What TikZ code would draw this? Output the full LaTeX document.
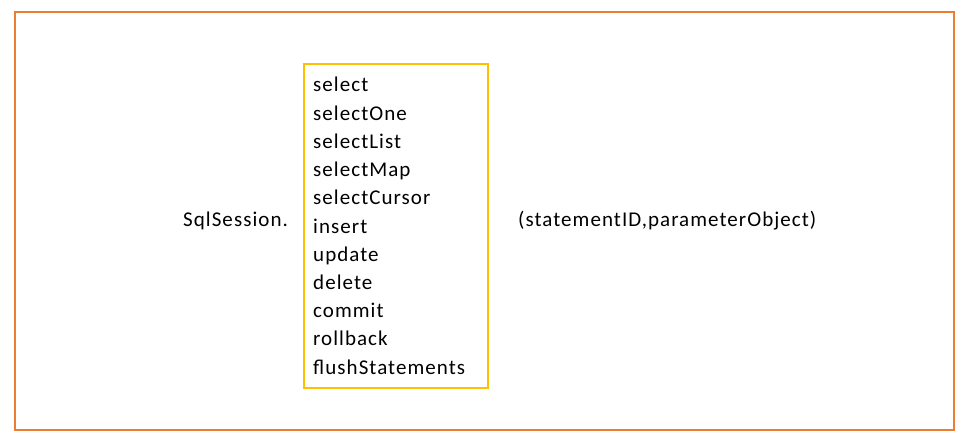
\documentclass[tikz,border=0pt]{standalone}
\usepackage{fontspec}
\setmainfont{Carlito}[LetterSpace=5]
\usepackage{xcolor}
\definecolor{frameorange}{HTML}{ED7D31}
\definecolor{boxyellow}{HTML}{FFC000}
\tikzset{x=1pt, y=-1pt,
 item/.style={anchor=base west, inner sep=0pt, font=\fontsize{21}{24}\selectfont},
 word/.style={anchor=base west, inner sep=0pt, font=\fontsize{21}{24}\selectfont},
 }

\begin{document}
\begin{tikzpicture}
        \useasboundingbox (0, 0) rectangle (968, 441);
        \draw [frameorange, line width=1.2pt] (15, 12) rectangle (954, 430);
        \draw [boxyellow, line width=1.2pt] (304, 64) rectangle (488, 388);
        \node [word] (session) at (183, 226) {SqlSession.};
        \node [item] (m1) at (313, 92) {select};
        \node [item] (m2) at (313, 120.2) {selectOne};
        \node [item] (m3) at (313, 148.4) {selectList};
        \node [item] (m4) at (313, 176.6) {selectMap};
        \node [item] (m5) at (313, 204.8) {selectCursor};
        \node [item] (m6) at (313, 233) {insert};
        \node [item] (m7) at (313, 261.2) {update};
        \node [item] (m8) at (313, 289.4) {delete};
        \node [item] (m9) at (313, 317.6) {commit};
        \node [item] (m10) at (313, 345.8) {rollback};
        \node [item] (m11) at (313, 374) {flushStatements};
        \node [word] (args) at (518, 226) {(statementID,parameterObject)};
    \end{tikzpicture}
\end{document}
